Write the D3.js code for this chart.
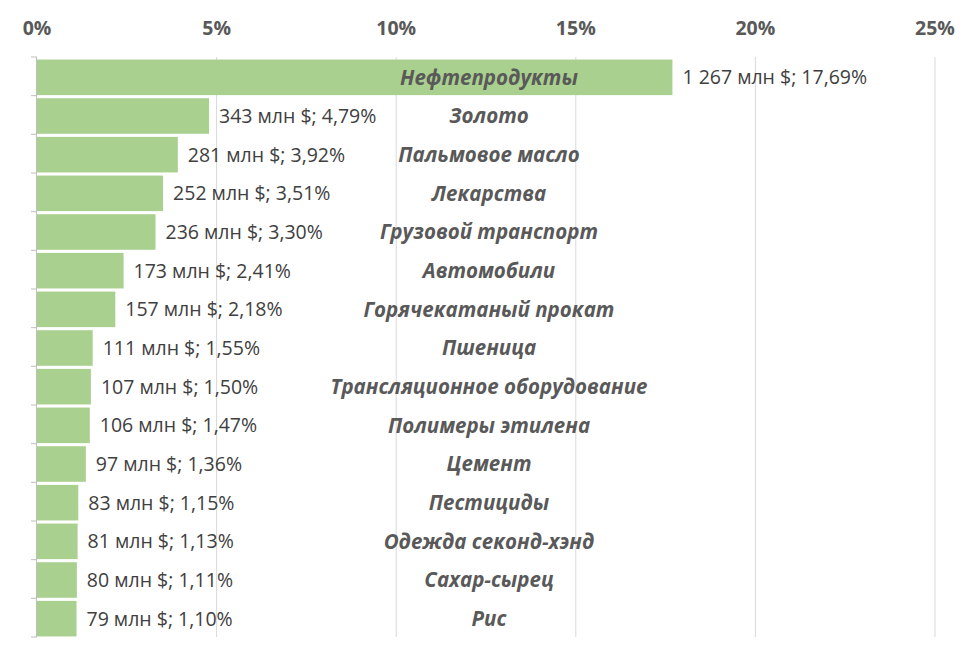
<!DOCTYPE html>
<html>
<head>
<meta charset="utf-8">
<script src="https://cdn.jsdelivr.net/npm/d3@7"></script>
<style>
  body { margin: 0; background: #fff; }
  text { font-family: "Open Sans", sans-serif; }
</style>
</head>
<body>
<svg></svg>
<script>
const categories = ["Нефтепродукты", "Золото", "Пальмовое масло", "Лекарства", "Грузовой транспорт",
  "Автомобили", "Горячекатаный прокат", "Пшеница", "Трансляционное оборудование", "Полимеры этилена",
  "Цемент", "Пестициды", "Одежда секонд-хэнд", "Сахар-сырец", "Рис"];
const shares = [17.69, 4.79, 3.92, 3.51, 3.30, 2.41, 2.18, 1.55, 1.50, 1.47, 1.36, 1.15, 1.13, 1.11, 1.10];
const amounts = ["1 267", "343", "281", "252", "236", "173", "157", "111", "107", "106", "97", "83", "81", "80", "79"];
const ticks = [0, 5, 10, 15, 20, 25];

const width = 979, height = 662;
const plotTop = 57, plotBottom = 637;
const svg = d3.select('svg')
    .attr('width', width)
    .attr('height', height);

const x = d3.scaleLinear().domain([0, 25]).range([37, 935]);
const y = d3.scaleBand().domain(categories).range([plotTop + 1, plotBottom + 1]).paddingInner(0.08).paddingOuter(0.04);

// gridlines
svg.append('g')
    .selectAll('line')
    .data(ticks.slice(1))
    .join('line')
    .attr('x1', d => x(d))
    .attr('x2', d => x(d))
    .attr('y1', plotTop)
    .attr('y2', plotBottom)
    .style('stroke', '#d9d9d9')
    .style('stroke-width', 1);

// top tick labels
svg.append('g')
    .selectAll('text')
    .data(ticks)
    .join('text')
    .attr('x', d => x(d))
    .attr('y', 35)
    .attr('text-anchor', 'middle')
    .attr('fill', '#595959')
    .attr('font-size', '19.5px')
    .attr('font-weight', 'bold')
    .text(d => d + '%');

// bars
svg.append('g')
    .selectAll('rect')
    .data(categories)
    .join('rect')
    .attr('x', x(0))
    .attr('y', d => y(d))
    .attr('width', (d, i) => x(shares[i]) - x(0))
    .attr('height', y.bandwidth())
    .attr('fill', '#a9d08e');

// category axis line and ticks
svg.append('line')
    .attr('x1', x(0) - 0.5).attr('x2', x(0) - 0.5)
    .attr('y1', plotTop).attr('y2', plotBottom)
    .style('stroke', '#bfbfbf');
svg.append('g')
    .selectAll('line')
    .data(d3.range(categories.length + 1))
    .join('line')
    .attr('x1', x(0) - 6).attr('x2', x(0))
    .attr('y1', i => plotTop + i * ((plotBottom - plotTop) / categories.length))
    .attr('y2', i => plotTop + i * ((plotBottom - plotTop) / categories.length))
    .style('stroke', '#bfbfbf');

// value labels
svg.append('g')
    .selectAll('text')
    .data(categories)
    .join('text')
    .attr('x', (d, i) => x(shares[i]) + 10)
    .attr('y', d => y(d) + y.bandwidth() / 2)
    .attr('dy', '0.36em')
    .attr('fill', '#404040')
    .attr('font-size', '19.5px')
    .text((d, i) => amounts[i] + ' млн $; ' + shares[i].toFixed(2).replace('.', ',') + '%');

// category labels
svg.append('g')
    .selectAll('text')
    .data(categories)
    .join('text')
    .attr('x', 489)
    .attr('y', d => y(d) + y.bandwidth() / 2)
    .attr('dy', '0.36em')
    .attr('text-anchor', 'middle')
    .attr('fill', '#595959')
    .attr('font-size', '20.5px')
    .attr('font-weight', 'bold')
    .attr('font-style', 'italic')
    .text(d => d);
</script>
</body>
</html>
